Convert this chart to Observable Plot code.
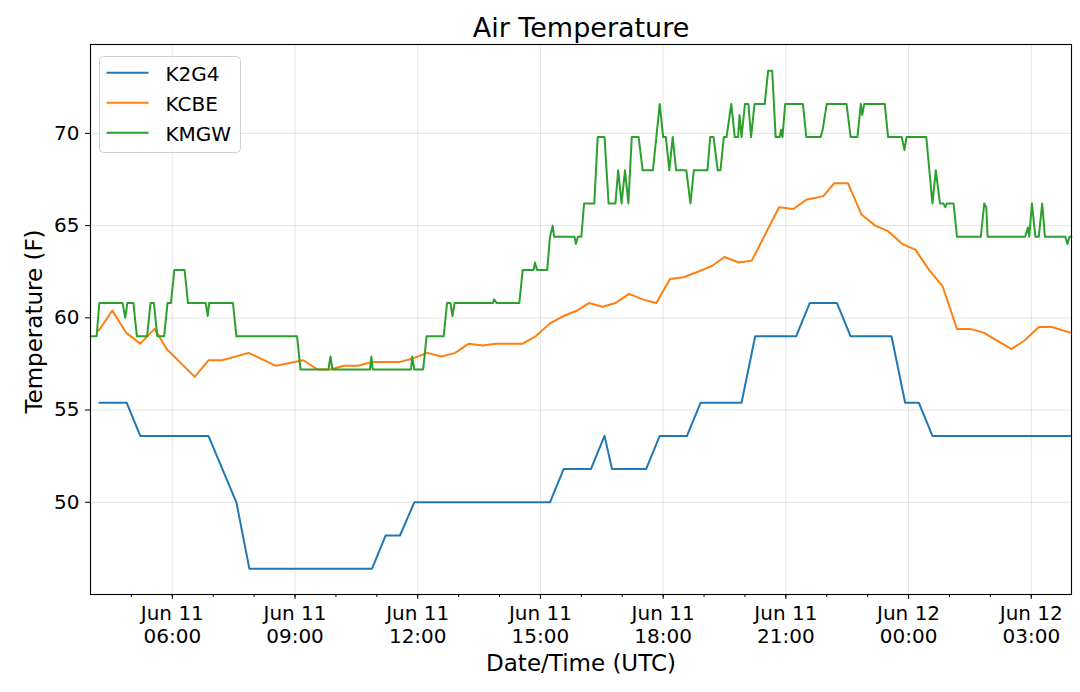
<!DOCTYPE html>
<html><head><meta charset="utf-8">
<script src="https://cdn.jsdelivr.net/npm/d3@7"></script>
<script src="https://cdn.jsdelivr.net/npm/@observablehq/plot@0.6"></script>
<style>
body{margin:0;background:#fff;}
#wrap{position:relative;width:1080px;height:692px;font-family:"DejaVu Sans",sans-serif;}
</style></head><body><div id="wrap"></div>
<script>
const title = "Air Temperature";
const xLabel = "Date/Time (UTC)";
const yLabel = "Temperature (F)";
const stations = ["K2G4", "KCBE", "KMGW"];
const colors = ["#1f77b4", "#ff7f0e", "#2ca02c"];

const k2g4Times = ["11 04:13","11 04:53","11 05:13","11 06:53","11 07:34","11 07:53","11 10:53","11 11:13","11 11:34","11 11:55",
  "11 15:14","11 15:34","11 16:14","11 16:34","11 16:45","11 17:35","11 17:55","11 18:35","11 18:55","11 19:55",
  "11 20:15","11 21:15","11 21:35","11 22:15","11 22:35","11 23:35","11 23:55","12 00:15","12 00:35","12 03:57"];
const k2g4Temps = [55.4,55.4,53.6,53.6,50.0,46.4,46.4,48.2,48.2,50.0,
  50.0,51.8,51.8,53.6,51.8,51.8,53.6,53.6,55.4,55.4,
  59.0,59.0,60.8,60.8,59.0,59.0,55.4,55.4,53.6,53.6];

const kcbeTimes = ["11 04:12","11 04:32","11 04:52","11 05:13","11 05:34","11 05:52","11 06:33","11 06:53","11 07:13","11 07:52",
  "11 08:32","11 09:12","11 09:33","11 09:52","11 10:12","11 10:33","11 10:52","11 11:33","11 11:53","11 12:14",
  "11 12:35","11 12:55","11 13:15","11 13:35","11 13:55","11 14:34","11 14:53","11 15:14","11 15:34","11 15:54",
  "11 16:11","11 16:31","11 16:50","11 17:10","11 17:30","11 17:50","11 18:10","11 18:30","11 18:51","11 19:11",
  "11 19:30","11 19:51","11 20:10","11 20:50","11 21:11","11 21:30","11 21:55","11 22:11","11 22:31","11 22:51",
  "11 23:11","11 23:30","11 23:51","12 00:10","12 00:30","12 00:50","12 01:11","12 01:30","12 01:50","12 02:31",
  "12 02:51","12 03:11","12 03:30","12 03:57"];
const kcbeTemps = [59.3,60.4,59.2,58.6,59.4,58.3,56.8,57.7,57.7,58.1,
  57.4,57.7,57.2,57.2,57.4,57.4,57.6,57.6,57.8,58.1,
  57.9,58.1,58.6,58.5,58.6,58.6,59.0,59.7,60.1,60.4,
  60.8,60.6,60.8,61.3,61.0,60.8,62.1,62.2,62.5,62.8,
  63.3,63.0,63.1,66.0,65.9,66.4,66.6,67.3,67.3,65.6,
  65.0,64.7,64.0,63.7,62.6,61.7,59.4,59.4,59.2,58.3,
  58.8,59.5,59.5,59.2];

const kmgwTimes = [
  "11 04:00","11 04:09","11 04:13","11 04:47","11 04:51","11 04:54","11 05:03","11 05:08","11 05:23","11 05:28",
  "11 05:33","11 05:38","11 05:48","11 05:53","11 05:58","11 06:03","11 06:18","11 06:23","11 06:49","11 06:52",
  "11 06:54","11 07:29","11 07:34","11 09:03","11 09:08","11 09:49","11 09:52","11 09:55","11 10:50","11 10:52",
  "11 10:54","11 11:50","11 11:52","11 11:55","11 12:08","11 12:13","11 12:38","11 12:43","11 12:48","11 12:51",
  "11 12:54","11 13:50","11 13:52","11 13:56","11 14:29","11 14:34","11 14:50","11 14:52","11 14:55","11 15:10",
  "11 15:14","11 15:18","11 15:20","11 15:50","11 15:52","11 15:55","11 16:00","11 16:04","11 16:19","11 16:24",
  "11 16:34","11 16:40","11 16:50","11 16:54","11 16:59","11 17:04","11 17:09","11 17:14","11 17:24","11 17:30",
  "11 17:45","11 17:55","11 18:00","11 18:04","11 18:09","11 18:14","11 18:19","11 18:34","11 18:40","11 18:45",
  "11 19:05","11 19:09","11 19:14","11 19:20","11 19:24","11 19:29","11 19:33","11 19:40","11 19:45","11 19:50",
  "11 19:52","11 19:55","11 20:00","11 20:05","11 20:09","11 20:14","11 20:29","11 20:34","11 20:40","11 20:45",
  "11 20:51","11 20:53","11 20:55","11 20:59","11 21:25","11 21:30","11 21:51","11 21:54","11 22:00","11 22:29",
  "11 22:35","11 22:45","11 22:50","11 22:52","11 22:55","11 23:25","11 23:30","11 23:50","11 23:54","11 23:57",
  "12 00:26","12 00:35","12 00:40","12 00:46","12 00:51","12 00:54","12 00:56","12 01:06","12 01:11","12 01:46",
  "12 01:51","12 01:54","12 01:56","12 02:51","12 02:55","12 02:57","12 03:01","12 03:06","12 03:11","12 03:16",
  "12 03:20","12 03:50","12 03:53","12 03:56","12 03:59"];
const kmgwTemps = [
  59.0,59.0,60.8,60.8,60.0,60.8,60.8,59.0,59.0,60.8,
  60.8,59.0,59.0,60.8,60.8,62.6,62.6,60.8,60.8,60.1,
  60.8,60.8,59.0,59.0,57.2,57.2,57.9,57.2,57.2,57.9,
  57.2,57.2,57.9,57.2,57.2,59.0,59.0,60.8,60.8,60.1,
  60.8,60.8,61.0,60.8,60.8,62.6,62.6,63.0,62.6,62.6,
  64.4,65.0,64.4,64.4,64.0,64.4,64.4,66.2,66.2,69.8,
  69.8,66.2,66.2,68.0,66.2,68.0,66.2,69.8,69.8,68.0,
  68.0,71.6,69.8,69.8,68.0,69.8,68.0,68.0,66.2,68.0,
  68.0,69.8,69.8,68.0,68.0,69.8,69.8,71.6,69.8,69.8,
  71.0,69.8,71.6,71.6,69.8,71.6,71.6,73.4,73.4,69.8,
  69.8,70.2,69.8,71.6,71.6,69.8,69.8,70.2,71.6,71.6,
  69.8,69.8,71.6,71.0,71.6,71.6,69.8,69.8,69.1,69.8,
  69.8,66.2,68.0,66.2,66.2,66.0,66.2,66.2,64.4,64.4,
  66.2,66.0,64.4,64.4,64.9,64.4,66.2,64.4,64.4,66.2,
  64.4,64.4,64.0,64.4,64.4];

const xStart = "11 04:00";
const xEnd = "12 03:59";
const xTickTimes = ["11 06:00","11 09:00","11 12:00","11 15:00","11 18:00","11 21:00","12 00:00","12 03:00"];
const xMinorTimes = ["11 05:00","11 06:00","11 07:00","11 08:00","11 09:00","11 10:00","11 11:00","11 12:00",
  "11 13:00","11 14:00","11 15:00","11 16:00","11 17:00","11 18:00","11 19:00","11 20:00","11 21:00","11 22:00",
  "11 23:00","12 00:00","12 01:00","12 02:00","12 03:00"];
const yTicks = [50, 55, 60, 65, 70];
const yDomain = [45.0, 74.82];

const parse = d3.utcParse("%Y-%m-%d %H:%M");
const toDate = s => parse("2019-06-" + s);
const allTimes = [k2g4Times, kcbeTimes, kmgwTimes];
const allTemps = [k2g4Temps, kcbeTemps, kmgwTemps];
const rows = [];
stations.forEach((name, i) => {
  allTimes[i].forEach((t, j) => rows.push({station: name, time: toDate(t), temp: allTemps[i][j]}));
});
const xTicks = xTickTimes.map(toDate);
const xMinor = xMinorTimes.map(toDate);
const fmt = d3.utcFormat("%b %d\n%H:%M");

const chart = Plot.plot({
  width: 1080, height: 692,
  marginLeft: 90, marginRight: 9, marginTop: 44, marginBottom: 98,
  style: {fontFamily: '"DejaVu Sans", sans-serif', fontSize: "20px", background: "#fff", color: "#000", overflow: "visible"},
  x: {type: "utc", domain: [toDate(xStart), toDate(xEnd)]},
  y: {domain: yDomain},
  color: {domain: stations, range: colors},
  marks: [
    Plot.gridX(xTicks, {stroke: "#000", strokeOpacity: 0.09, strokeWidth: 1.2}),
    Plot.gridY(yTicks, {stroke: "#000", strokeOpacity: 0.09, strokeWidth: 1.2}),
    Plot.line(rows, {x: "time", y: "temp", z: "station", stroke: "station", strokeWidth: 2}),
    Plot.frame({stroke: "#000", strokeWidth: 1.1}),
    Plot.axisY(yTicks, {tickSize: 5, tickPadding: 6, fontSize: 20, label: null, stroke: "#000"}),
    Plot.axisX(xMinor, {tickSize: 3, tickFormat: () => "", label: null, stroke: "#000"}),
    Plot.axisX(xTicks, {tickSize: 5, tickPadding: 4, fontSize: 20, lineHeight: 1.15, tickFormat: fmt, label: null, stroke: "#000"}),
    Plot.text([title], {text: d => d, frameAnchor: "top", dy: -7.3, lineAnchor: "bottom", fontSize: 27}),
    Plot.text([xLabel], {text: d => d, frameAnchor: "bottom", dy: 76, lineAnchor: "bottom", fontSize: 23}),
    Plot.text([yLabel], {text: d => d, frameAnchor: "left", dx: -48.3, dy: 2, rotate: -90, lineAnchor: "bottom", textAnchor: "middle", fontSize: 23})
  ]
});
const wrap = document.getElementById("wrap");
wrap.appendChild(chart);

// legend
const lg = d3.create("svg")
  .attr("width", 143).attr("height", 98)
  .style("position", "absolute").style("left", "99px").style("top", "55.5px")
  .style("font-family", '"DejaVu Sans", sans-serif');
lg.append("rect").attr("x", 0.5).attr("y", 0.5).attr("width", 141).attr("height", 96).attr("rx", 4)
  .attr("fill", "#fff").attr("fill-opacity", 0.8).attr("stroke", "#d0d0d0");
stations.forEach((s, i) => {
  const y = 16.8 + i * 30;
  lg.append("line").attr("x1", 7.5).attr("x2", 49.5).attr("y1", y).attr("y2", y)
    .attr("stroke", colors[i]).attr("stroke-width", 2);
  lg.append("text").attr("x", 66.5).attr("y", y + 7.7).attr("font-size", 20).attr("fill", "#000").text(s);
});
wrap.appendChild(lg.node());
</script></body></html>
